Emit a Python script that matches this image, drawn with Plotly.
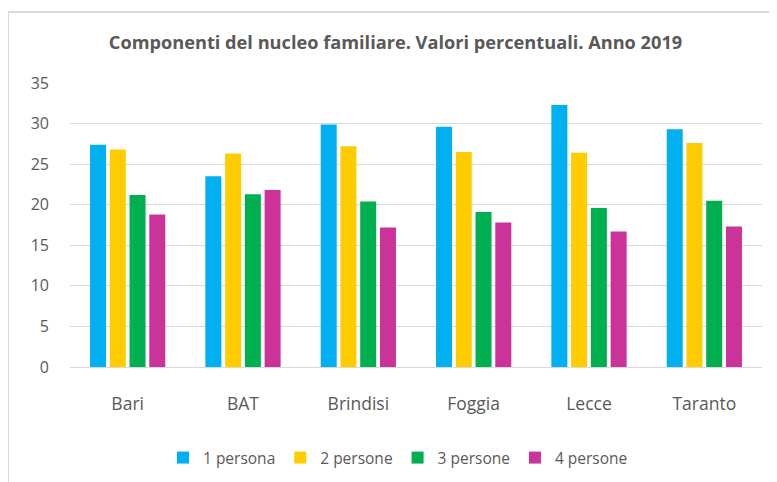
import plotly.graph_objects as go

categories = ["Bari", "BAT", "Brindisi", "Foggia", "Lecce", "Taranto"]
series_names = ["1 persona", "2 persone", "3 persone", "4 persone"]
v1 = [27.4, 23.5, 29.9, 29.6, 32.3, 29.3]
v2 = [26.8, 26.3, 27.2, 26.5, 26.4, 27.6]
v3 = [21.2, 21.3, 20.4, 19.1, 19.6, 20.5]
v4 = [18.8, 21.8, 17.2, 17.8, 16.7, 17.3]
colors = ["#00B0F0", "#FFCC00", "#00B050", "#CC3399"]
y_ticks = [0, 5, 10, 15, 20, 25, 30, 35]

FONT = "Open Sans, sans-serif"
W, H = 769, 474
L, R, T, B = 62, 15, 75, 115
PW, PH = W - L - R, H - T - B

fig = go.Figure()
for name, vals, c in zip(series_names, [v1, v2, v3, v4], colors):
    fig.add_trace(go.Bar(x=categories, y=vals, name=name, marker_color=c,
                         marker_line_width=0))

fig.update_layout(
    width=W, height=H,
    margin=dict(l=L, r=R, t=T, b=B, autoexpand=False),
    paper_bgcolor="white", plot_bgcolor="white",
    barmode="group", bargap=0.315, bargroupgap=0.19,
    title=dict(text="<b>Componenti del nucleo familiare. Valori percentuali. Anno 2019</b>",
               x=387.5 / W, xanchor="center", y=1 - 35 / H, yanchor="middle",
               font=dict(family=FONT, size=18.2, color="#595959")),
    font=dict(family=FONT, color="#595959"),
    legend=dict(orientation="h", xref="container", x=390 / W, xanchor="center",
                yref="container", y=1 - 450 / H, yanchor="middle",
                font=dict(size=15.5, color="#595959"), itemwidth=30,
                traceorder="normal"),
    shapes=[dict(type="rect", xref="paper", yref="paper",
                 x0=(0 - L) / PW, x1=(790 - L) / PW,
                 y0=(T + PH - 500) / PH, y1=(T + PH - 4) / PH,
                 line=dict(color="#D9D9D9", width=2), fillcolor="rgba(0,0,0,0)",
                 layer="below")],
)
fig.update_yaxes(range=[0, 35], tickvals=y_ticks, showgrid=True, gridcolor="#D9D9D9",
                 gridwidth=1, zeroline=True, zerolinecolor="#D9D9D9", zerolinewidth=1,
                 ticks="", tickfont=dict(size=16, color="#595959"), ticklabelstandoff=20,
                 showline=False)
fig.update_xaxes(tickfont=dict(size=17.5, color="#595959"), ticks="", showline=False,
                 ticklabelstandoff=24)

fig.write_html("out.html")
